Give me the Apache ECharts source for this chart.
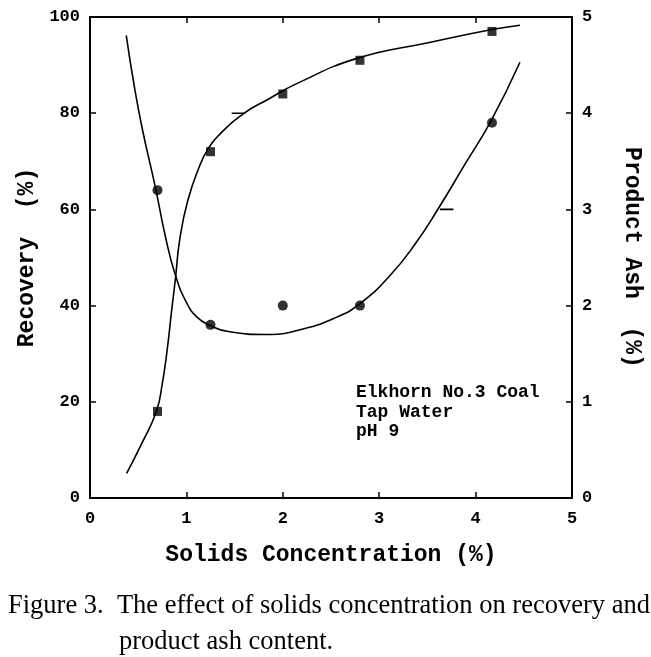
<!DOCTYPE html>
<html><head><meta charset="utf-8">
<script src="https://cdn.jsdelivr.net/npm/echarts@6/dist/echarts.min.js"></script>
<style>html,body{margin:0;padding:0;background:#fff}#c{width:651px;height:657px}</style>
</head><body><div id="c"></div>
<script>
// Solids concentration (%) of measured points
var solids = [0.7, 1.25, 2.0, 2.8, 4.17];
// Recovery (%) measured points (squares, left axis)
var recovery = [18, 72, 84, 91, 97];
// Product ash (%) measured points (circles, right axis)
var ash = [3.2, 1.8, 2.0, 2.0, 3.9];
// Fitted curves
var recCurveX = [0.38, 0.536, 0.69, 0.75, 0.80, 0.847, 0.888, 0.929, 1.014, 1.144, 1.22, 1.33, 1.6, 1.84, 2.15, 2.77, 3.52, 4.17, 4.46];
var recCurveY = [5.1, 11.3, 18.1, 23.8, 30.7, 39.0, 45.9, 53.5, 61.8, 69.4, 72.4, 75.3, 80.0, 82.8, 86.2, 91.4, 94.7, 97.4, 98.3];
var ashCurveX = [0.376, 0.461, 0.546, 0.676, 0.786, 0.888, 1.007, 1.11, 1.23, 1.434, 1.84, 2.22, 2.56, 2.80, 3.11, 3.38, 3.62, 3.89, 4.16, 4.46];
var ashCurveY = [4.81, 4.27, 3.82, 3.24, 2.70, 2.31, 2.02, 1.88, 1.80, 1.73, 1.70, 1.76, 1.88, 2.02, 2.31, 2.65, 3.02, 3.47, 3.92, 4.53];
// Axis pointer dashes (x from, x to, value)
var recDashX = [1.47, 1.61]; var recDashY = [80, 80];
var ashDashX = [3.63, 3.77]; var ashDashY = [3.0, 3.0];
// Tick labels
var xTicks = [0, 1, 2, 3, 4, 5];
var leftTicks = [0, 20, 40, 60, 80, 100];
var rightTicks = [0, 1, 2, 3, 4, 5];
var noteLines = ['Elkhorn No.3 Coal', 'Tap Water', 'pH 9'];
var captionLines = ['Figure 3.  The effect of solids concentration on recovery and', 'product ash content.'];

function zip(a, b) { return a.map(function (v, i) { return [v, b[i]]; }); }

var mono = '"Liberation Mono", "DejaVu Sans Mono", monospace';
var chart = echarts.init(document.getElementById('c'));
function axisLine() { return { show: true, onZero: false, lineStyle: { color: '#000', width: 2 } }; }
function tick() { return { show: true, inside: true, length: 6, lineStyle: { color: '#000', width: 1.5 } }; }
function lab(list, margin) {
  return { margin: margin, color: '#000', fontFamily: mono, fontWeight: 'bold', fontSize: 17,
    formatter: function (v) { return list.indexOf(v) >= 0 ? String(v) : ''; } };
}
function nameStyle() { return { color: '#000', fontFamily: mono, fontWeight: 'bold', fontSize: 23 }; }

chart.setOption({
  animation: false,
  backgroundColor: '#fff',
  grid: { left: 90, right: 73, top: 17, bottom: 159 },
  xAxis: [
    { type: 'value', min: 0, max: 5, interval: 1, position: 'bottom',
      axisLine: axisLine(), axisTick: tick(), splitLine: { show: false },
      axisLabel: lab(xTicks, 12),
      name: 'Solids Concentration (%)', nameLocation: 'middle', nameGap: 46, nameTextStyle: nameStyle() },
    { type: 'value', min: 0, max: 5, interval: 1, position: 'top',
      axisLine: axisLine(), axisTick: tick(), axisLabel: { show: false }, splitLine: { show: false } }
  ],
  yAxis: [
    { type: 'value', min: 0, max: 100, interval: 20, position: 'left',
      axisLine: axisLine(), axisTick: tick(), splitLine: { show: false },
      axisLabel: lab(leftTicks, 10),
      name: 'Recovery  (%)', nameLocation: 'middle', nameGap: 49, nameRotate: 90, nameTextStyle: nameStyle() },
    { type: 'value', min: 0, max: 5, interval: 1, position: 'right',
      axisLine: axisLine(), axisTick: tick(), splitLine: { show: false },
      axisLabel: lab(rightTicks, 10),
      name: 'Product Ash  (%)', nameLocation: 'middle', nameGap: 48, nameRotate: -90, nameTextStyle: nameStyle() }
  ],
  series: [
    { type: 'line', data: zip(recCurveX, recCurveY), smooth: 0.5, showSymbol: false, symbol: 'none',
      lineStyle: { color: '#000', width: 1.6 }, z: 2 },
    { type: 'line', yAxisIndex: 1, data: zip(ashCurveX, ashCurveY), smooth: 0.5, showSymbol: false, symbol: 'none',
      lineStyle: { color: '#000', width: 1.6 }, z: 2 },
    { type: 'scatter', data: zip(solids, recovery), symbol: 'rect', symbolSize: 9, itemStyle: { color: '#000' }, z: 3 },
    { type: 'scatter', yAxisIndex: 1, data: zip(solids, ash), symbol: 'circle', symbolSize: 10, itemStyle: { color: '#000' }, z: 3 },
    { type: 'line', data: zip(recDashX, recDashY), symbol: 'none', lineStyle: { color: '#000', width: 1.6 } },
    { type: 'line', yAxisIndex: 1, data: zip(ashDashX, ashDashY), symbol: 'none', lineStyle: { color: '#000', width: 1.6 } }
  ],
  graphic: [
    { type: 'text', left: 356, top: 383, style: { text: noteLines.join('\n'), fill: '#000', font: 'bold 18px ' + mono, lineHeight: 19.5 } },
    { type: 'text', left: 8, top: 593, style: { text: captionLines[0], fill: '#000', font: '26.5px "Liberation Serif", serif' } },
    { type: 'text', left: 119, top: 629, style: { text: captionLines[1], fill: '#000', font: '26.5px "Liberation Serif", serif' } }
  ]
});
</script></body></html>
